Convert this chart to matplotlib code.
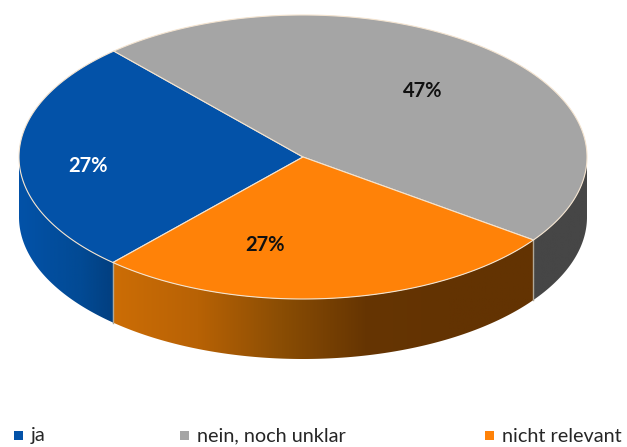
import numpy as np
import matplotlib
matplotlib.use("Agg")
import matplotlib.pyplot as plt
from matplotlib.colors import LinearSegmentedColormap
from matplotlib.patches import Polygon

# values
labels = ['ja', 'nein, noch unklar', 'nicht relevant']
values = [27, 47, 27]
value_labels = ['27%', '47%', '27%']

top_colors = ['#0352a8', '#a5a5a5', '#ff8208']
label_colors = ['white', '#111111', '#111111']
label_pos = [(88, 166), (423, 91), (265, 245)]
legend_x = [14, 180, 485]

cx, cy = 303, 157
rx, ry = 284, 142
depth = 60
start = 228

side_cmaps = [
    LinearSegmentedColormap.from_list('b', ['#0352a8', '#024e9e', '#024a94', '#023f80']),
    LinearSegmentedColormap.from_list('g', ['#464646', '#464646']),
    LinearSegmentedColormap.from_list('o', ['#cc6d06', '#b86205', '#8a4d04', '#663502', '#633302', '#633302']),
]

plt.rcParams['font.family'] = ['Lato', 'DejaVu Sans']

fig = plt.figure(figsize=(6.27, 4.47), dpi=100)
ax = fig.add_axes([0, 0, 1, 1])


def rim(t):
    t = np.radians(t)
    return cx + rx * np.cos(t), cy - ry * np.sin(t)


# slices run clockwise from the lower left
edges = start - np.concatenate([[0], np.cumsum(values)]) / sum(values) * 360

# side wall, only the front half of the ellipse shows
grad = np.linspace(0, 1, 256).reshape(1, -1)
for i in range(3):
    ts = np.linspace(edges[i], edges[i + 1], 300)
    ts = ts[np.sin(np.radians(ts)) < 0]
    xs, ys = rim(ts)
    poly = Polygon(np.c_[np.r_[xs, xs[::-1]], np.r_[ys, ys[::-1] + depth]],
                   closed=True, transform=ax.transData, fc='none', ec='none')
    ax.add_patch(poly)
    im = ax.imshow(grad, cmap=side_cmaps[i], aspect='auto', zorder=2,
                   extent=(xs.min(), xs.max(), ys.max() + depth, ys.min()))
    im.set_clip_path(poly)

ax.set_xlim(0, 627)
ax.set_ylim(447, 0)
ax.axis('off')

# seams between the side pieces
for t in edges[:3]:
    x, y = rim(t)
    if np.sin(np.radians(t)) < 0:
        ax.plot([x, x], [y, y + depth], color='#b0a898', lw=1.0, zorder=3)

# top face
for i in range(3):
    ts = np.linspace(edges[i], edges[i + 1], 200)
    xs, ys = rim(ts)
    ax.fill(np.r_[cx, xs], np.r_[cy, ys], facecolor=top_colors[i],
            edgecolor='#f4e4d0', lw=0.8, zorder=4, joinstyle='round')

for i in range(3):
    ax.text(label_pos[i][0], label_pos[i][1], value_labels[i], color=label_colors[i],
            fontsize=14.5, fontweight='bold', ha='center', va='center', zorder=5)

# legend
for i in range(3):
    ax.fill_between([legend_x[i], legend_x[i] + 9], 431, 440, color=top_colors[i], lw=0, zorder=5)
    ax.text(legend_x[i] + 17, 436, labels[i], color='#262626',
            fontsize=14.3, ha='left', va='center')

fig.savefig('out.png', dpi=100)
